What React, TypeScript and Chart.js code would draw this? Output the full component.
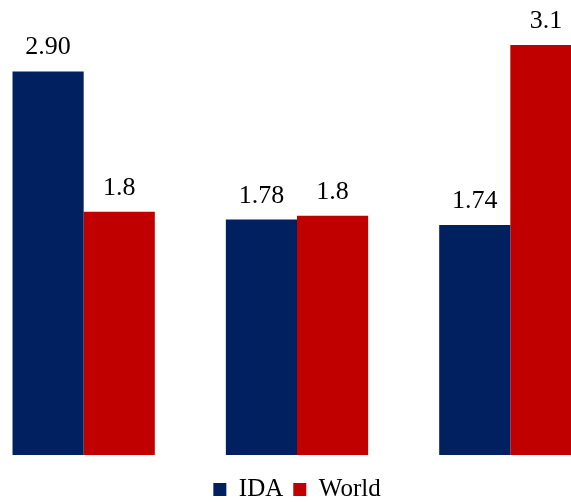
import React, { useEffect, useRef } from "react";
import { Chart, registerables } from "chart.js";

Chart.register(...registerables);

const categories = ["Group 1", "Group 2", "Group 3"];
const idaValues = [2.9, 1.78, 1.74];
const worldValues = [1.84, 1.81, 3.1];
const seriesNames = ["IDA", "World"];
const labelDecimals = [2, 1];

const FONT = "'Liberation Serif', 'Times New Roman', serif";

const valueLabels = {
  id: "valueLabels",
  afterDatasetsDraw(chart: any) {
    const ctx = chart.ctx;
    ctx.save();
    ctx.font = `26px ${FONT}`;
    ctx.fillStyle = "#000000";
    ctx.textAlign = "center";
    ctx.textBaseline = "alphabetic";
    chart.data.datasets.forEach((ds: any, di: number) => {
      const meta = chart.getDatasetMeta(di);
      meta.data.forEach((bar: any, i: number) => {
        const v = ds.data[i] as number;
        ctx.fillText(v.toFixed(labelDecimals[di]), bar.x, bar.y - 17);
      });
    });
    ctx.restore();
  },
};

export default function App() {
  const ref = useRef<HTMLCanvasElement | null>(null);
  useEffect(() => {
    if (!ref.current) return;
    const chart = new Chart(ref.current, {
      type: "bar",
      data: {
        labels: categories,
        datasets: [
          { label: seriesNames[0], data: idaValues, backgroundColor: "#002060", borderWidth: 0 },
          { label: seriesNames[1], data: worldValues, backgroundColor: "#C00000", borderWidth: 0 },
        ],
      },
      options: {
        responsive: false,
        animation: false,
        devicePixelRatio: 1,
        layout: { padding: 0 },
        datasets: { bar: { categoryPercentage: 0.667, barPercentage: 1 } },
        scales: {
          x: { display: false },
          y: { display: false, min: -0.09, max: 3.44 },
        },
        plugins: {
          tooltip: { enabled: false },
          legend: {
            position: "bottom",
            labels: {
              boxWidth: 13,
              boxHeight: 13,
              padding: 10,
              color: "#000000",
              font: { family: FONT, size: 25 },
            },
          },
        },
      },
      plugins: [valueLabels],
    });
    return () => chart.destroy();
  }, []);
  return (
    <div style={{ position: "fixed", left: 0, top: 0, width: 571, height: 502, overflow: "hidden", background: "#fff" }}>
      <div style={{ position: "absolute", left: -23, top: 0, width: 640, height: 512 }}>
        <canvas ref={ref} width={640} height={512} />
      </div>
    </div>
  );
}
